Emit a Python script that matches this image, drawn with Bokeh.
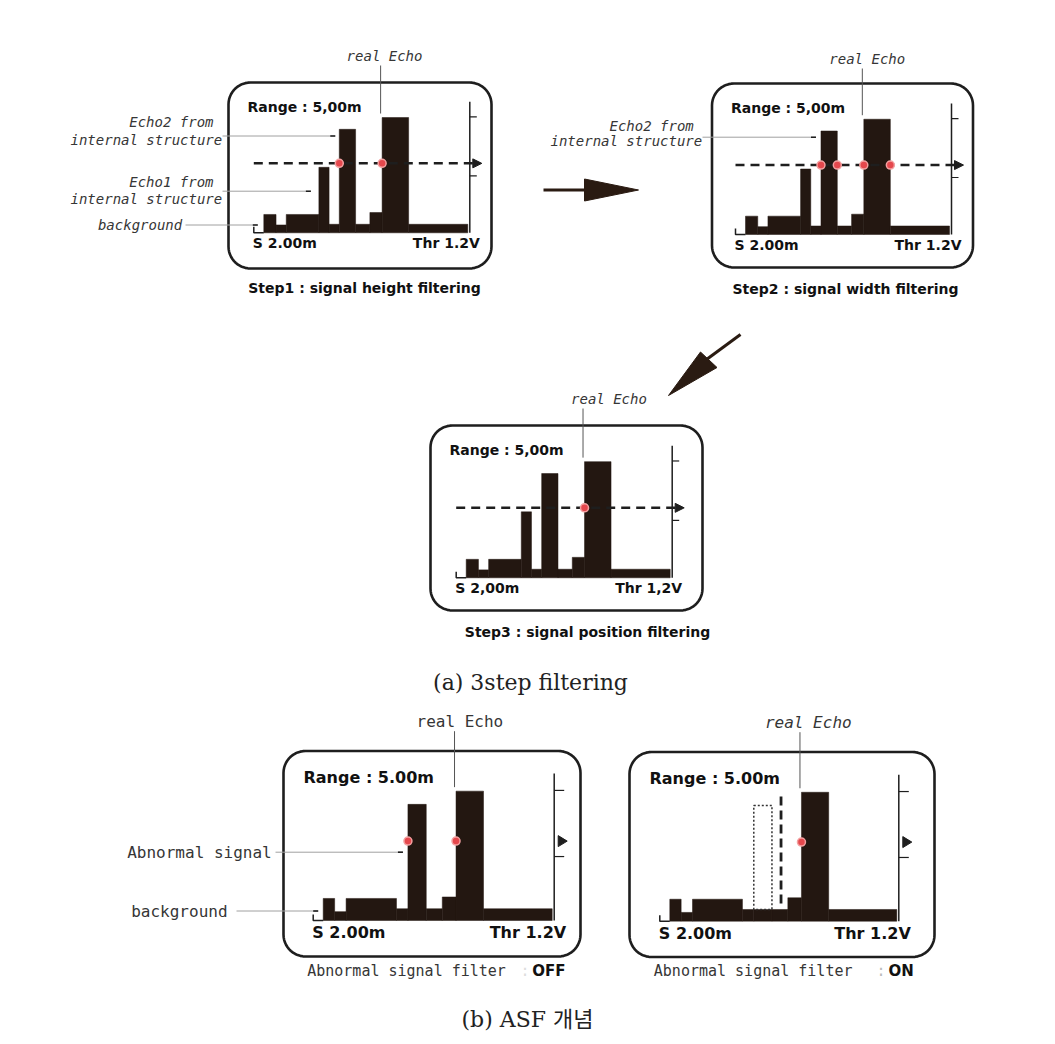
import numpy as np
from bokeh.plotting import figure
from bokeh.models import Range1d
from bokeh.core.properties import value
from bokeh.embed import file_html
from bokeh.resources import INLINE

# ---------------- data ----------------
# Signal A (Step1-3 panels): bar edges in % of trace width, heights in % of scale height
edges_a = [0, 6, 11, 27, 32, 37, 45, 52, 58, 71, 100]
heights_a = [14, 6, 14, 50, 6.5, 79, 6.5, 15.5, 88, 6.5]
# Signal B (ASF panels): abnormal signal occupies edges 37-45
edges_b = [0, 5, 10, 32, 37, 45, 52, 58, 70, 100]
heights_b_off = [15, 6, 15, 8, 79, 8, 16, 88, 8]
heights_b_on = [15, 6, 15, 8, 8, 8, 16, 88, 8]
ghost_edges = [37, 45]
ghost_levels = [8, 79]
gate_pos = 49
gate_levels = [12, 88]
threshold_a = 53
threshold_b = 54
scale_ticks = [88.5, 43.5]
echo_edge = 58
dots = {1: [37, 58], 2: [37, 45, 58, 71], 3: [58], 4: [37, 58], 5: [58]}

range_txt = {1: "Range : 5,00m", 2: "Range : 5,00m", 3: "Range : 5,00m",
             4: "Range : 5.00m", 5: "Range : 5.00m"}
start_txt = {1: "S 2.00m", 2: "S 2.00m", 3: "S 2,00m", 4: "S 2.00m", 5: "S 2.00m"}
thr_txt = {1: "Thr 1.2V", 2: "Thr 1.2V", 3: "Thr 1,2V", 4: "Thr 1.2V", 5: "Thr 1.2V"}
step_txt = {1: "Step1 : signal height filtering", 2: "Step2 : signal width filtering",
            3: "Step3 : signal position filtering"}

# ---------------- layout ----------------
BAR = "#231711"
INK = "#1e1e1e"
LBL = "#363636"
LEAD = "#a0a0a0"
MONO = value("DejaVu Sans Mono")
BOLD = value("DejaVu Sans")

panels = {
    1: dict(box=(228, 491, 82, 268), x0=263.3, w=204, y0=232.3, h=131, big=False),
    2: dict(box=(711.5, 972.5, 83, 267), x0=745, w=204, y0=234, h=131, big=False),
    3: dict(box=(430, 702, 425, 610), x0=465.7, w=204, y0=577.3, h=132, big=False),
    4: dict(box=(283, 580, 750.5, 956), x0=322.7, w=229, y0=920, h=147, big=True),
    5: dict(box=(629, 934, 751.5, 956.5), x0=669.3, w=227, y0=920.7, h=146.5, big=True),
}

p = figure(width=1047, height=1036, x_range=Range1d(0, 1047), y_range=Range1d(1036, 0),
           output_backend="svg", toolbar_location=None, min_border=0)
p.axis.visible = False
p.grid.visible = False
p.outline_line_color = None
p.background_fill_color = "white"


def X(pn, u):
    g = panels[pn]
    return g["x0"] + np.asarray(u, dtype=float) / 100.0 * g["w"]


def Y(pn, v):
    g = panels[pn]
    return g["y0"] - np.asarray(v, dtype=float) / 100.0 * g["h"]


def txt(x, y, s, font=MONO, size=14, style="normal", align="left", color=LBL):
    p.text(x=[x], y=[y], text=[s], text_font=font, text_font_size=value(f"{size}px"),
           text_font_style=style, text_align=align, text_baseline="middle", text_color=color)


def rounded_box(l, r, t, b, rad=22):
    xs, ys = [], []
    for cx, cy, a0, a1 in [(r - rad, t + rad, -90, 0), (r - rad, b - rad, 0, 90),
                           (l + rad, b - rad, 90, 180), (l + rad, t + rad, 180, 270)]:
        ang = np.radians(np.linspace(a0, a1, 14))
        xs += list(cx + rad * np.cos(ang))
        ys += list(cy + rad * np.sin(ang))
    p.patch(xs, ys, fill_color=None, line_color=INK, line_width=2.6)


def leader(y, xa, xb):
    p.line([xa, xb], [y, y], line_color=LEAD, line_width=1)
    p.line([xb - 5, xb], [y, y], line_color=INK, line_width=1.6)


def draw_panel(pn, edges, heights, thr, dashed):
    g = panels[pn]
    l, r, t, b = g["box"]
    big = g["big"]
    rounded_box(l, r, t, b)
    x0, y0, w, h = g["x0"], g["y0"], g["w"], g["h"]
    ax = x0 + w + 2
    # bars
    p.quad(left=X(pn, edges[:-1]), right=X(pn, edges[1:]), top=Y(pn, heights),
           bottom=[y0] * len(heights), fill_color=BAR, line_color=BAR, line_width=0.5)
    # start bracket
    p.line([x0 - 10, x0 - 10, x0], [y0 - 6, y0, y0], line_color=INK, line_width=1.5)
    # right scale
    p.line([ax, ax], [y0 - h, y0], line_color=INK, line_width=1.5)
    tl = 10 if big else 7
    for tv in scale_ticks:
        yy = float(Y(pn, tv))
        p.line([ax, ax + tl], [yy, yy], line_color=INK, line_width=1.2)
    yt = float(Y(pn, thr))
    if dashed:
        p.line([x0 - 10, ax + 4], [yt, yt], line_color=INK, line_width=2.5, line_dash="9 6")
        p.patch([ax + 3, ax + 3, ax + 12], [yt - 4.5, yt + 4.5, yt], fill_color=INK, line_color=INK)
    else:
        p.patch([ax + 4, ax + 4, ax + 13], [yt - 5.5, yt + 5.5, yt], fill_color=INK, line_color=INK)
    # texts
    fs = 16 if big else 14
    txt(l + (20 if big else 19), t + (26.5 if big else 24.5), range_txt[pn], BOLD, fs, "bold", color="#111")
    txt(x0 - 11, y0 + (12 if big else 10), start_txt[pn], BOLD, fs, "bold", color="#111")
    txt(ax + (12 if big else 10), y0 + (12 if big else 10), thr_txt[pn], BOLD, fs, "bold", "right", "#111")
    return yt


def dots_at(pn, yt):
    xs = X(pn, dots[pn])
    p.scatter(x=xs, y=[yt] * len(xs), size=8, fill_color="#e5484d", line_color="#f3a0a0", line_width=1.5)


def real_echo(pn, dx, ty, italic=True, size=14):
    xe = float(X(pn, echo_edge)) - 1.5
    ftop = float(Y(pn, 88)) - 4
    txt(xe + dx, ty, "real Echo", MONO, size, "italic" if italic else "normal")
    p.line([xe, xe], [ty + 10, ftop], line_color="#555", line_width=1)


# ---- Step 1 ----
yt1 = draw_panel(1, edges_a, heights_a, threshold_a, True)
dots_at(1, yt1)
real_echo(1, -34, 55)
txt(213, 121.7, "Echo2 from", MONO, 14, "italic", "right")
txt(221.7, 139.3, "internal structure", MONO, 14, "italic", "right")
leader(135.5, 222, float(X(1, 37)) - 4)
txt(213, 181.7, "Echo1 from", MONO, 14, "italic", "right")
txt(221.7, 198.3, "internal structure", MONO, 14, "italic", "right")
leader(190.7, 222, float(X(1, 27)) - 8)
txt(181.7, 224.3, "background", MONO, 14, "italic", "right")
leader(224.5, 185, panels[1]["x0"] - 6)
txt(364, 287, step_txt[1], BOLD, 14, "bold", "center", "#111")

# ---- Step 2 ----
yt2 = draw_panel(2, edges_a, heights_a, threshold_a, True)
dots_at(2, yt2)
real_echo(2, -33, 58)
txt(693.3, 125, "Echo2 from", MONO, 14, "italic", "right")
txt(701.7, 140, "internal structure", MONO, 14, "italic", "right")
leader(136.7, 702, float(X(2, 37)) - 5)
txt(845, 288, step_txt[2], BOLD, 14, "bold", "center", "#111")

# ---- Step 3 ----
yt3 = draw_panel(3, edges_a, heights_a, threshold_a, True)
dots_at(3, yt3)
real_echo(3, -12, 398)
txt(587, 631, step_txt[3], BOLD, 14, "bold", "center", "#111")

# ---- step arrows ----
ARW = "#2a1b12"
p.line([543, 586], [189.5, 189.5], line_color=ARW, line_width=3)
p.patch([584, 584, 638], [178.5, 200.5, 189.5], fill_color=ARW, line_color=ARW)
p.line([740, 706], [334, 359], line_color=ARW, line_width=3)
p.patch([700, 716.5, 668], [351.5, 367, 395], fill_color=ARW, line_color=ARW)

txt(530, 682, "(a) 3step filtering", value("DejaVu Serif"), 22, "normal", "center", "#222")

# ---- ASF OFF ----
yt4 = draw_panel(4, edges_b, heights_b_off, threshold_b, False)
dots_at(4, yt4)
real_echo(4, -38, 720.7, italic=False, size=16)
txt(126.7, 851.7, "Abnormal signal", MONO, 16)
leader(851.7, 275, float(X(4, 37)) - 5)
txt(130.7, 910.7, "background", MONO, 16)
leader(910.5, 236, panels[4]["x0"] - 5)
txt(306.7, 970.7, "Abnormal signal filter", MONO, 15)
txt(520, 970.7, ":", MONO, 15, color="#dddddd")
txt(531.7, 970.7, "OFF", BOLD, 15, "bold", color="#111")

# ---- ASF ON ----
yt5 = draw_panel(5, edges_b, heights_b_on, threshold_b, False)
dots_at(5, yt5)
real_echo(5, -35, 721.7, italic=True, size=16)
gx = X(5, ghost_edges)
gy = Y(5, ghost_levels)
p.quad(left=[gx[0]], right=[gx[1]], top=[gy[1]], bottom=[gy[0]], fill_color=None,
       line_color="#333", line_width=1.5, line_dash="2 2")
gp = float(X(5, gate_pos))
p.line([gp, gp], list(Y(5, gate_levels)), line_color=INK, line_width=2.8, line_dash="9 5")
txt(653.3, 970, "Abnormal signal filter", MONO, 15)
txt(876, 970, ":", MONO, 15, color="#bbbbbb")
txt(888, 970, "ON", BOLD, 15, "bold", color="#111")

p.text(x=[527], y=[1019], text=["(b) ASF 개념"],
       text_font=value("DejaVu Serif, Noto Sans CJK KR"), text_font_size=value("22px"),
       text_align="center", text_baseline="middle", text_color="#222")

open("out.html", "w").write(file_html(p, INLINE))
